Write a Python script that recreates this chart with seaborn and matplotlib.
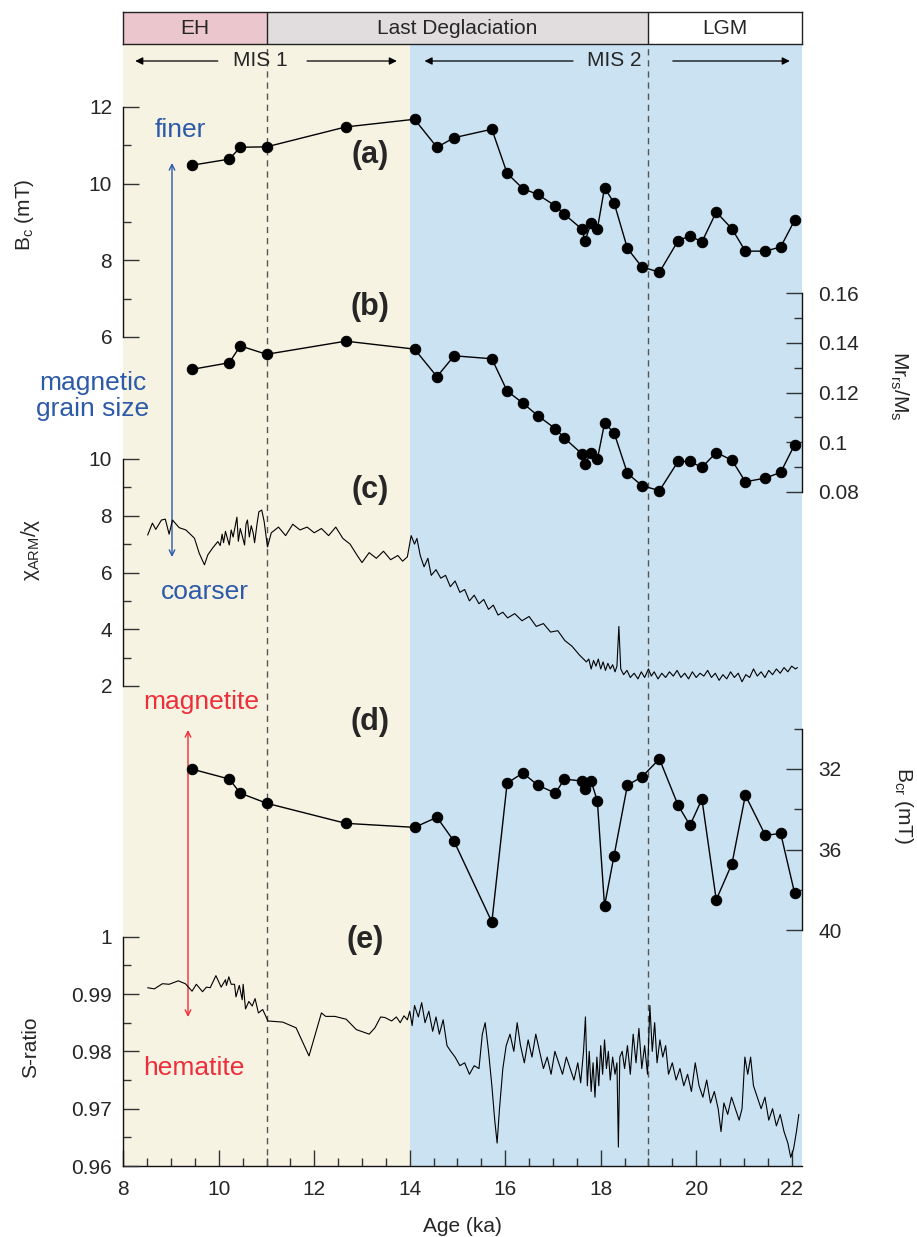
import numpy as np
import pandas as pd
import matplotlib
matplotlib.use("Agg")
import matplotlib.pyplot as plt
import seaborn as sns

sns.set_style("ticks")
plt.rcParams['font.family'] = ['Liberation Sans', 'DejaVu Sans']
plt.rcParams['mathtext.fontset'] = 'custom'
plt.rcParams['mathtext.rm'] = 'Liberation Sans'
plt.rcParams['mathtext.it'] = 'Liberation Sans:italic'
plt.rcParams['mathtext.bf'] = 'Liberation Sans:bold'

# ---------------- data ----------------
age_pts = [9.43, 10.22, 10.45, 11.0, 12.66, 14.10, 14.57, 14.93, 15.72, 16.04, 16.37, 16.68,
           17.05, 17.24, 17.61, 17.67, 17.80, 17.93, 18.08, 18.28, 18.56, 18.86, 19.23,
           19.62, 19.87, 20.12, 20.42, 20.75, 21.03, 21.45, 21.77, 22.06]
bc_vals = [10.48, 10.64, 10.95, 10.96, 11.48, 11.68, 10.95, 11.20, 11.42, 10.27, 9.87, 9.72,
           9.42, 9.20, 8.81, 8.51, 8.97, 8.82, 9.89, 9.50, 8.31, 7.83, 7.69,
           8.51, 8.64, 8.48, 9.26, 8.82, 8.24, 8.24, 8.35, 9.04]
mrms_vals = [0.1293, 0.1320, 0.1388, 0.1354, 0.1407, 0.1375, 0.1264, 0.1348, 0.1336, 0.1206,
             0.1157, 0.1107, 0.1054, 0.1016, 0.0952, 0.0911, 0.0958, 0.0931, 0.1076, 0.1038,
             0.0874, 0.0825, 0.0804, 0.0922, 0.0922, 0.0898, 0.0958, 0.0927, 0.0840, 0.0855,
             0.0878, 0.0989]
bcr_vals = [32.0, 32.5, 33.2, 33.7, 34.7, 34.9, 34.4, 35.6, 39.6, 32.7, 32.2, 32.8,
            33.2, 32.5, 32.6, 33.0, 32.6, 33.6, 38.8, 36.3, 32.8, 32.4, 31.5,
            33.8, 34.8, 33.5, 38.5, 36.7, 33.3, 35.3, 35.2, 38.15]

age_chi = [8.51, 8.61, 8.68, 8.80, 8.88, 8.96, 9.03, 9.17, 9.31, 9.49, 9.59, 9.70, 9.77, 9.87,
           9.98, 10.03, 10.07, 10.10, 10.14, 10.18, 10.22, 10.26, 10.30, 10.34, 10.38, 10.41,
           10.45, 10.49, 10.54, 10.57, 10.60, 10.64, 10.68, 10.72, 10.75, 10.80, 10.84, 10.90,
           10.95, 11.02, 11.10, 11.25, 11.40, 11.55, 11.70, 11.85, 12.00, 12.15, 12.30, 12.45,
           12.60, 12.75, 12.90, 13.00, 13.15, 13.30, 13.45, 13.60, 13.75, 13.85, 13.95, 14.03,
           14.10, 14.15, 14.22, 14.30, 14.38, 14.45, 14.55, 14.65, 14.75, 14.85, 14.95, 15.05,
           15.15, 15.25, 15.35, 15.45, 15.55, 15.65, 15.75, 15.85, 15.95, 16.05, 16.20, 16.35,
           16.50, 16.65, 16.80, 16.95, 17.10, 17.25, 17.40, 17.55, 17.70, 17.75, 17.80, 17.85,
           17.90, 17.95, 18.00, 18.05, 18.10, 18.15, 18.20, 18.25, 18.30, 18.34, 18.38, 18.42,
           18.48, 18.55, 18.62, 18.70, 18.78, 18.85, 18.92, 19.00, 19.06, 19.12, 19.20, 19.28,
           19.36, 19.44, 19.52, 19.60, 19.68, 19.76, 19.84, 19.92, 20.00, 20.08, 20.16, 20.24,
           20.32, 20.40, 20.48, 20.56, 20.64, 20.72, 20.80, 20.88, 20.96, 21.04, 21.12, 21.20,
           21.28, 21.36, 21.44, 21.52, 21.60, 21.68, 21.76, 21.84, 21.92, 22.00, 22.08, 22.12]
chi_vals = [7.32, 7.74, 7.52, 7.85, 7.88, 7.35, 7.85, 7.58, 7.50, 7.21, 6.68, 6.27, 6.62, 6.86,
            7.09, 6.95, 7.35, 7.05, 7.45, 7.20, 6.97, 7.50, 7.25, 7.60, 7.95, 7.10,
            7.55, 7.30, 6.97, 7.70, 7.85, 7.25, 7.65, 7.40, 7.05, 7.70, 8.14, 8.20,
            7.80, 6.90, 7.40, 7.60, 7.30, 7.70, 7.50, 7.60, 7.40, 7.55, 7.30, 7.60,
            7.20, 7.00, 6.60, 6.35, 6.70, 6.50, 6.75, 6.45, 6.60, 6.40, 6.55, 7.30,
            7.00, 7.20, 6.60, 6.20, 6.50, 5.90, 6.10, 5.80, 5.90, 5.50, 5.70, 5.30,
            5.40, 5.00, 5.20, 4.90, 5.05, 4.70, 4.85, 4.50, 4.60, 4.40, 4.55, 4.30,
            4.45, 4.10, 4.20, 3.90, 3.95, 3.60, 3.40, 3.10, 2.85, 2.95, 2.60, 2.90,
            2.70, 2.95, 2.60, 2.85, 2.55, 2.80, 2.60, 2.75, 2.50, 2.70, 4.10, 2.60,
            2.40, 2.55, 2.30, 2.45, 2.25, 2.50, 2.30, 2.60, 2.35, 2.50, 2.25, 2.45,
            2.30, 2.50, 2.35, 2.55, 2.30, 2.45, 2.25, 2.50, 2.30, 2.45, 2.35, 2.55,
            2.30, 2.45, 2.20, 2.40, 2.25, 2.50, 2.30, 2.45, 2.15, 2.40, 2.30, 2.60,
            2.35, 2.50, 2.30, 2.55, 2.40, 2.60, 2.45, 2.65, 2.50, 2.70, 2.60, 2.65]

age_s = [8.51, 8.65, 8.82, 8.96, 9.15, 9.30, 9.44, 9.53, 9.66, 9.74, 9.82, 9.94, 10.05, 10.14,
         10.16, 10.21, 10.26, 10.33, 10.36, 10.43, 10.49, 10.51, 10.56, 10.63, 10.70, 10.76,
         10.83, 10.92, 11.03, 11.34, 11.62, 11.89, 12.15, 12.24, 12.43, 12.67, 12.88, 13.15,
         13.27, 13.39, 13.48, 13.62, 13.72, 13.80, 13.88, 13.95, 14.00, 14.05, 14.10, 14.18,
         14.25, 14.32, 14.40, 14.48, 14.55, 14.62, 14.70, 14.78, 14.86, 14.95, 15.05, 15.15,
         15.25, 15.35, 15.45, 15.52, 15.58, 15.65, 15.72, 15.78, 15.83, 15.88, 15.95, 16.02,
         16.10, 16.18, 16.25, 16.32, 16.40, 16.48, 16.56, 16.64, 16.72, 16.80, 16.88, 16.96,
         17.04, 17.12, 17.20, 17.28, 17.36, 17.44, 17.52, 17.58, 17.64, 17.68, 17.72, 17.76,
         17.80, 17.84, 17.88, 17.92, 17.96, 18.00, 18.04, 18.08, 18.12, 18.16, 18.20, 18.25,
         18.30, 18.34, 18.37, 18.40, 18.45, 18.50, 18.56, 18.62, 18.68, 18.74, 18.80, 18.86,
         18.92, 18.98, 19.03, 19.08, 19.13, 19.18, 19.24, 19.30, 19.36, 19.42, 19.50, 19.58,
         19.66, 19.74, 19.82, 19.90, 19.98, 20.06, 20.14, 20.22, 20.30, 20.38, 20.46, 20.52,
         20.58, 20.66, 20.74, 20.82, 20.90, 20.96, 21.02, 21.08, 21.14, 21.20, 21.28, 21.36,
         21.44, 21.52, 21.60, 21.68, 21.76, 21.84, 21.92, 21.98, 22.04, 22.10, 22.15]
s_vals = [0.9911, 0.9909, 0.9918, 0.9917, 0.9923, 0.9918, 0.9905, 0.9917, 0.9904, 0.9912,
          0.9911, 0.9932, 0.9912, 0.9925, 0.9915, 0.9930, 0.9917, 0.9917, 0.9895, 0.9915,
          0.9890, 0.9917, 0.9874, 0.9887, 0.9879, 0.9892, 0.9867, 0.9873, 0.9853, 0.9851,
          0.9841, 0.9792, 0.9867, 0.9861, 0.9861, 0.9856, 0.9838, 0.9830, 0.9841, 0.9860,
          0.9859, 0.9853, 0.9860, 0.9850, 0.9862, 0.9855, 0.9870, 0.9845, 0.9880, 0.9860,
          0.9885, 0.9850, 0.9870, 0.9835, 0.9860, 0.9830, 0.9855, 0.9810, 0.9800, 0.9790,
          0.9775, 0.9780, 0.9760, 0.9775, 0.9770, 0.9830, 0.9850, 0.9800, 0.9740, 0.9680,
          0.9640, 0.9700, 0.9770, 0.9810, 0.9830, 0.9800, 0.9850, 0.9810, 0.9780, 0.9820,
          0.9790, 0.9830, 0.9800, 0.9770, 0.9790, 0.9760, 0.9800, 0.9780, 0.9760, 0.9790,
          0.9770, 0.9750, 0.9780, 0.9745, 0.9800, 0.9860, 0.9740, 0.9800, 0.9730, 0.9780,
          0.9720, 0.9790, 0.9740, 0.9810, 0.9760, 0.9820, 0.9770, 0.9800, 0.9750, 0.9790,
          0.9760, 0.9780, 0.9633, 0.9790, 0.9800, 0.9770, 0.9810, 0.9760, 0.9830, 0.9780,
          0.9840, 0.9770, 0.9810, 0.9760, 0.9880, 0.9800, 0.9850, 0.9780, 0.9820, 0.9790,
          0.9810, 0.9760, 0.9780, 0.9750, 0.9770, 0.9740, 0.9760, 0.9730, 0.9780, 0.9740,
          0.9720, 0.9750, 0.9710, 0.9730, 0.9700, 0.9660, 0.9710, 0.9690, 0.9720, 0.9700,
          0.9680, 0.9700, 0.9790, 0.9760, 0.9790, 0.9740, 0.9720, 0.9700, 0.9720, 0.9680,
          0.9700, 0.9670, 0.9690, 0.9660, 0.9640, 0.9615, 0.9630, 0.9660, 0.9690]

x_ticks = [8, 10, 12, 14, 16, 18, 20, 22]
header_labels = ["EH", "Last Deglaciation", "LGM"]
header_bounds = [8, 11, 19, 22.21]

# ---------------- layout (pixels) ----------------
W, H = 917, 1237
L, R, T, B = 123.3, 801.7, 44, 1166
XMIN, XMAX = 8, 22.21
BEIGE = '#F6F3E2'
BLUE = '#CAE2F2'
TXT_BLUE = '#2C5AA8'
TXT_RED = '#EE2E3A'

fig = plt.figure(figsize=(W / 100, H / 100), dpi=100)
rect = [L / W, (H - B) / H, (R - L) / W, (B - T) / H]


def ylims(v1, y1, v2, y2):
    f1 = (B - y1) / (B - T)
    f2 = (B - y2) / (B - T)
    s = (f1 - f2) / (v1 - v2)
    lo = v1 - f1 / s
    return lo, lo + 1 / s


# background axes with x-axis
ax_bg = fig.add_axes(rect)
ax_bg.set_xlim(XMIN, XMAX)
ax_bg.set_ylim(0, 1)
ax_bg.axvspan(8, 14, color=BEIGE, lw=0, zorder=0)
ax_bg.axvspan(14, XMAX, color=BLUE, lw=0, zorder=0)
for s in ['top', 'left', 'right']:
    ax_bg.spines[s].set_visible(False)
ax_bg.spines['bottom'].set_linewidth(1.0)
ax_bg.spines['bottom'].set_color('#111111')
ax_bg.set_yticks([])
ax_bg.set_xticks(x_ticks)
ax_bg.set_xticklabels([str(t) for t in x_ticks])
ax_bg.set_xticks(np.arange(8, 22.01, 0.5), minor=True)
ax_bg.tick_params(axis='x', which='major', direction='in', length=11.5, width=1.0,
                  pad=10, labelsize=15, color='#333333')
ax_bg.tick_params(axis='x', which='minor', direction='in', length=5.5, width=1.0, color='#333333')
ax_bg.set_xlabel("Age (ka)", fontsize=15, labelpad=13)
for xv in [11, 19]:
    ax_bg.axvline(xv, color='#555555', lw=1.0, ls=(0, (4.5, 3.5)), zorder=1)


def make_panel(v1, y1, v2, y2, side, bounds, major, minor, labels, pad):
    ax = fig.add_axes(rect)
    ax.set_facecolor('none')
    ax.set_xlim(XMIN, XMAX)
    ax.set_ylim(*ylims(v1, y1, v2, y2))
    for s in ['top', 'bottom', 'left', 'right']:
        ax.spines[s].set_visible(False)
    ax.spines[side].set_visible(True)
    ax.spines[side].set_bounds(*bounds)
    ax.spines[side].set_linewidth(1.0)
    ax.spines[side].set_color('#111111')
    ax.yaxis.set_ticks_position(side)
    ax.set_yticks(major)
    ax.set_yticklabels(labels)
    ax.set_yticks(minor, minor=True)
    ax.tick_params(axis='y', which='major', direction='in', length=11.5, width=1.0,
                   pad=pad, labelsize=15, color='#333333')
    ax.tick_params(axis='y', which='minor', direction='in', length=5.5, width=1.0, color='#333333')
    ax.tick_params(axis='x', which='both', bottom=False, top=False, labelbottom=False)
    ax.set_xlabel('')
    ax.set_ylabel('')
    return ax


# (a) Bc
ax_a = make_panel(12, 107, 6, 337, 'left', (6, 12), [6, 8, 10, 12], [7, 9, 11],
                  ['6', '8', '10', '12'], 8)
sns.lineplot(x=age_pts, y=bc_vals, ax=ax_a, color='black', lw=1.0, marker='o', markersize=7.5,
             markeredgecolor='black', sort=False, estimator=None, zorder=5)
ax_a.set_ylabel('')

# (b) Mr/Ms
ax_b = make_panel(0.16, 293.3, 0.08, 491.7, 'right', (0.08, 0.16),
                  [0.08, 0.10, 0.12, 0.14, 0.16], [0.09, 0.11, 0.13, 0.15],
                  ['0.08', '0.1', '0.12', '0.14', '0.16'], 12)
sns.lineplot(x=age_pts, y=mrms_vals, ax=ax_b, color='black', lw=1.0, marker='o', markersize=7.5,
             markeredgecolor='black', sort=False, estimator=None, zorder=5)
ax_b.set_ylabel('')

# (c) chi_ARM/chi
ax_c = make_panel(10, 459, 2, 686, 'left', (2, 10), [2, 4, 6, 8, 10], [3, 5, 7, 9],
                  ['2', '4', '6', '8', '10'], 8)
sns.lineplot(x=age_chi, y=chi_vals, ax=ax_c, color='black', lw=0.8, sort=False, estimator=None)
ax_c.set_ylabel('')

# (d) Bcr (inverted)
ax_d = make_panel(32, 769, 40, 930, 'right', (30, 40), [32, 36, 40], [30, 34, 38],
                  ['32', '36', '40'], 12)
sns.lineplot(x=age_pts, y=bcr_vals, ax=ax_d, color='black', lw=1.0, marker='o', markersize=7.5,
             markeredgecolor='black', sort=False, estimator=None, zorder=5)
ax_d.set_ylabel('')

# (e) S-ratio
ax_e = make_panel(1.0, 936.7, 0.96, 1166, 'left', (0.96, 1.0),
                  [0.96, 0.97, 0.98, 0.99, 1.0], [0.965, 0.975, 0.985, 0.995],
                  ['0.96', '0.97', '0.98', '0.99', '1'], 8)
sns.lineplot(x=age_s, y=s_vals, ax=ax_e, color='black', lw=0.8, sort=False, estimator=None)
ax_e.set_ylabel('')

# ---------------- header ----------------
ax_h = fig.add_axes([L / W, (H - 44) / H, (R - L) / W, 32 / H])
ax_h.set_xlim(XMIN, XMAX)
ax_h.set_ylim(0, 1)
header_colors = ['#EBC6CD', '#E1DDDE', '#FFFFFF']
for i, lab in enumerate(header_labels):
    ax_h.axvspan(header_bounds[i], header_bounds[i + 1], color=header_colors[i], lw=0)
    ax_h.text((header_bounds[i] + header_bounds[i + 1]) / 2, 0.5, lab, ha='center', va='center',
              fontsize=15)
for xv in [11, 19]:
    ax_h.axvline(xv, color='#222222', lw=1.0)
for s in ax_h.spines.values():
    s.set_linewidth(1.0)
    s.set_color('#222222')
ax_h.set_xticks([])
ax_h.set_yticks([])


# ---------------- MIS arrows ----------------
def fy(y):
    return H - y


ymis = fy(61)
arrow_kw = dict(arrowstyle='-|>', color='black', lw=0.9, shrinkA=0, shrinkB=0, mutation_scale=11)
for tail, head in [(9.98, 8.25), (11.85, 13.73), (17.42, 14.31), (19.51, 21.96)]:
    ax_bg.annotate('', xy=(head, ymis), xytext=(tail, ymis),
                   xycoords=('data', 'figure pixels'), textcoords=('data', 'figure pixels'),
                   arrowprops=arrow_kw, annotation_clip=False)
ax_bg.annotate('MIS 1', xy=(10.87, ymis), xycoords=('data', 'figure pixels'), ha='center',
               va='center', fontsize=15, annotation_clip=False)
ax_bg.annotate('MIS 2', xy=(18.29, ymis), xycoords=('data', 'figure pixels'), ha='center',
               va='center', fontsize=15, annotation_clip=False)

# ---------------- panel letters ----------------
for lab, (px, py) in zip(['(a)', '(b)', '(c)', '(d)', '(e)'],
                         [(370, 155), (370, 307), (370, 490), (370, 722), (365, 940)]):
    fig.text(px / W, 1 - py / H, lab, fontsize=22, fontweight='bold', ha='center', va='center')

# ---------------- axis labels ----------------
fig.text(25 / W, 1 - 215 / H, r'B$_\mathregular{c}$ (mT)', rotation=90, ha='center', va='center',
         fontsize=15)
fig.text(30 / W, 1 - 550 / H, r'χ$_\mathregular{ARM}$/χ', rotation=90, ha='center', va='center',
         fontsize=15)
fig.text(31 / W, 1 - 1047 / H, 'S-ratio', rotation=90, ha='center', va='center', fontsize=15)
fig.text(899 / W, 1 - 386 / H, r'Mr$_\mathregular{rs}$/M$_\mathregular{s}$', rotation=270,
         ha='center', va='center', fontsize=15)
fig.text(903 / W, 1 - 806 / H, r'B$_\mathregular{cr}$ (mT)', rotation=270, ha='center',
         va='center', fontsize=15)

# ---------------- annotations ----------------
fig.text(180 / W, 1 - 130 / H, 'finer', color=TXT_BLUE, fontsize=19, ha='center', va='center')
fig.text(205 / W, 1 - 592 / H, 'coarser', color=TXT_BLUE, fontsize=19, ha='center', va='center')
fig.text(93 / W, 1 - 396 / H, 'magnetic\ngrain size', color=TXT_BLUE, fontsize=19, ha='center',
         va='center', linespacing=1.15)
fig.text(201 / W, 1 - 702 / H, 'magnetite', color=TXT_RED, fontsize=19, ha='center', va='center')
fig.text(194 / W, 1 - 1068 / H, 'hematite', color=TXT_RED, fontsize=19, ha='center', va='center')

ax_bg.annotate('', xy=(172, fy(163)), xytext=(172, fy(557)), xycoords='figure pixels',
               textcoords='figure pixels',
               arrowprops=dict(arrowstyle='<->', color=TXT_BLUE, lw=1.0, shrinkA=0, shrinkB=0,
                               mutation_scale=10), annotation_clip=False)
ax_bg.annotate('', xy=(188, fy(730)), xytext=(188, fy(1017)), xycoords='figure pixels',
               textcoords='figure pixels',
               arrowprops=dict(arrowstyle='<->', color=TXT_RED, lw=1.0, shrinkA=0, shrinkB=0,
                               mutation_scale=10), annotation_clip=False)

fig.savefig('out.png', dpi=100)
